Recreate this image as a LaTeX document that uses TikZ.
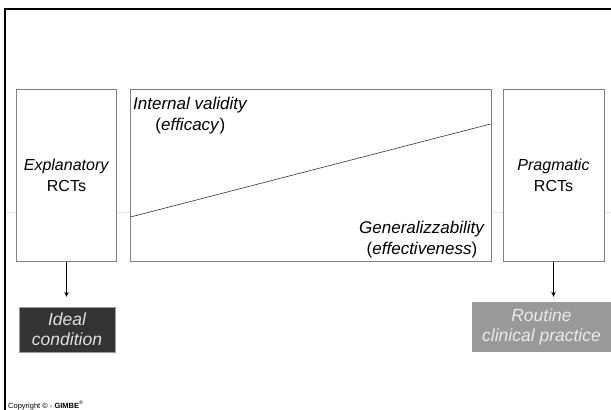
\documentclass[tikz,border=0pt]{standalone}
\usepackage{fontspec}
\setmainfont{Liberation Sans}
\usetikzlibrary{arrows.meta}
\tikzset{
	rctbox/.style={draw=gray, fill=white, line width=0.8pt, align=center, inner sep=0pt, font=\fontsize{16}{21}\selectfont},
	condbox/.style={draw=gray!80, align=center, inner sep=0pt, font=\fontsize{17.5}{20}\selectfont\itshape},
	axislabel/.style={align=center, inner sep=0pt, font=\fontsize{17}{21}\selectfont},
	downarrow/.style={-{Stealth[length=5pt,width=4.5pt]}, line width=0.8pt}
}
\begin{document}
\begin{tikzpicture}[x=1pt, y=-1pt]
		\useasboundingbox (0,0) rectangle (611,410);
		\draw[line width=2pt] (5,410) -- (5,9) -- (611,9);
		\draw[gray!20, line width=0.5pt] (6,212) -- (611,212);
		
		\node[rctbox, minimum width=100pt, minimum height=172pt] (expl) at (66.5,175.5) {\textit{Explanatory}\\RCTs};
		\node[rctbox, minimum width=361pt, minimum height=172pt] (mid) at (310.5,175.5) {};
		\node[rctbox, minimum width=101pt, minimum height=172pt] (prag) at (553.5,175.5) {\textit{Pragmatic}\\RCTs};
		
		\coordinate (lo) at (130.5,217);
		\coordinate (hi) at (490.5,124);
		\draw[black!80, line width=0.6pt] (lo) -- (hi);
		\node[axislabel, anchor=base west] (intval) at (133,130.5) {\textit{Internal validity}\\(\textit{efficacy})};
		\node[axislabel, anchor=base east] (genval) at (485,254) {\textit{Generalizzability}\\(\textit{effectiveness})};
		
		\node[condbox, fill=black!80, text=black!12, minimum width=96pt, minimum height=45pt] (ideal) at (67,329.5) {Ideal\\condition};
		\node[condbox, fill=black!40, text=black!8, minimum width=139pt, minimum height=49pt] (routine) at (541.5,326.5) {Routine\\clinical practice};
		
		\draw[downarrow, shorten >=10pt] (expl.south) -- (expl.south |- ideal.north);
		\draw[downarrow, shorten >=5pt] (prag.south) -- (prag.south |- routine.north);
		
		\node[anchor=base west, inner sep=0pt, font=\fontsize{7.5}{8}\selectfont] (copy) at (8,408) {Copyright © - \textbf{GIMBE}\textsuperscript{®}};
	\end{tikzpicture}
\end{document}
